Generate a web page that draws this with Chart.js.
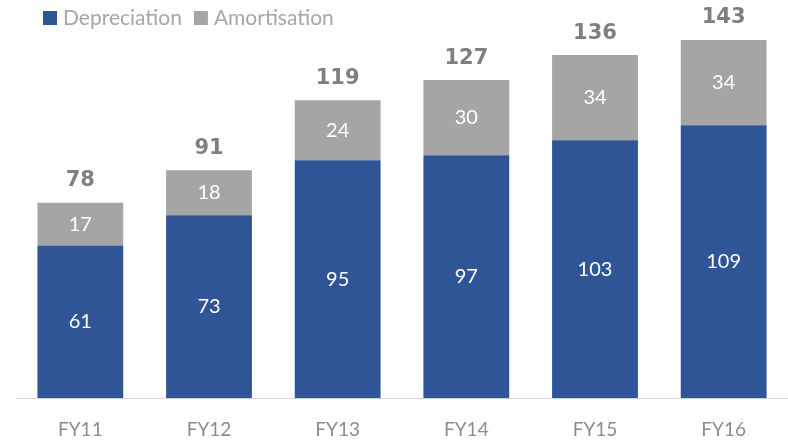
<!DOCTYPE html>
<html>
<head>
<meta charset="utf-8">
<script src="https://cdn.jsdelivr.net/npm/chart.js@4"></script>
<style>
  html, body { margin: 0; padding: 0; background: #fff; }
  #wrap { width: 788px; height: 440px; }
</style>
</head>
<body>
<div id="wrap"><canvas id="daChart" width="788" height="440"></canvas></div>
<script>
// Data
const years = ["FY11", "FY12", "FY13", "FY14", "FY15", "FY16"];
const depreciation = [61, 73, 95, 97, 103, 109];
const amortisation = [17, 18, 24, 30, 34, 34];
const totals = [78, 91, 119, 127, 136, 143];

// Draw the values inside each segment, the totals on top and the legend
const labelPlugin = {
    id: "labels",
    afterDatasetsDraw(chart) {
        const ctx = chart.ctx;
        ctx.save();
        ctx.textAlign = "center";
        ctx.textBaseline = "middle";
        ctx.fillStyle = "#ffffff";
        ctx.font = "20px Lato";
        chart.data.datasets.forEach((ds, i) => {
            chart.getDatasetMeta(i).data.forEach((bar, j) => {
                ctx.fillText(ds.data[j], bar.x, (bar.y + bar.base) / 2);
            });
        });
        ctx.fillStyle = "#7f7f7f";
        ctx.font = "bold 21px 'DejaVu Sans'";
        chart.getDatasetMeta(1).data.forEach((bar, j) => {
            ctx.fillText(totals[j], bar.x, bar.y - 22);
        });

        // legend, top left
        ctx.textAlign = "left";
        ctx.font = "21px Lato";
        let x = 43;
        chart.data.datasets.forEach((ds) => {
            ctx.fillStyle = ds.backgroundColor;
            ctx.fillRect(x, 11, 14, 14);
            ctx.fillStyle = "#a6a6a6";
            ctx.fillText(ds.label, x + 20, 18);
            x += 20 + ctx.measureText(ds.label).width + 12;
        });
        ctx.restore();
    }
};

new Chart(document.getElementById("daChart"), {
    type: "bar",
    data: {
        labels: years,
        datasets: [{
            label: "Depreciation",
            data: depreciation,
            backgroundColor: "#2f5597",
            categoryPercentage: 0.667,
            barPercentage: 1
        }, {
            label: "Amortisation",
            data: amortisation,
            backgroundColor: "#a5a5a5",
            categoryPercentage: 0.667,
            barPercentage: 1
        }]
    },
    options: {
        responsive: false,
        animation: false,
        layout: { padding: { left: 16, right: 0, top: 30, bottom: -21 } },
        plugins: {
            legend: { display: false },
            tooltip: { enabled: false }
        },
        scales: {
            x: {
                stacked: true,
                grid: { display: false, drawTicks: false },
                border: { color: "#d9d9d9", width: 1 },
                ticks: {
                    color: "#8c8c8c",
                    font: { family: "Lato", size: 19 },
                    padding: 20
                }
            },
            y: {
                stacked: true,
                display: false,
                min: 0,
                max: 147
            }
        }
    },
    plugins: [labelPlugin]
});
</script>
</body>
</html>
